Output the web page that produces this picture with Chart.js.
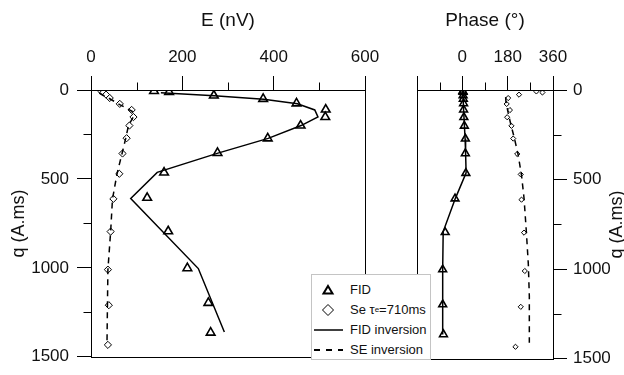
<!DOCTYPE html>
<html>
<head>
<meta charset="utf-8">
<script src="https://cdn.jsdelivr.net/npm/chart.js@4.4.1/dist/chart.umd.min.js"></script>
<style>
  body { margin: 0; background: #fff; }
  #wrap { position: relative; width: 624px; height: 375px; font-family: "Liberation Sans", Arial, sans-serif; }
  canvas { position: absolute; left: 0; top: 0; }
  #legend {
    position: absolute; left: 311px; top: 274px; width: 120px; height: 86px;
    box-sizing: border-box; border: 1px solid #c4c4c4; background: #fff;
    padding-top: 5px; font-size: 13px; color: #111;
  }
  .row { height: 20px; line-height: 20px; display: flex; align-items: center; }
  .row svg { width: 30px; height: 20px; margin-left: 1px; margin-right: 7px; flex: none; }
  sub { font-size: 8px; vertical-align: -2px; }
</style>
</head>
<body>
<div id="wrap">
  <canvas id="left" width="624" height="375"></canvas>
  <canvas id="right" width="624" height="375"></canvas>
  <div id="legend">
    <div class="row"><svg><polygon points="15,6 19.5,13.5 10.5,13.5" fill="none" stroke="#000" stroke-width="2"/></svg>FID</div>
    <div class="row"><svg><polygon points="15,4.5 20.5,10 15,15.5 9.5,10" fill="none" stroke="#000" stroke-width="1"/></svg>Se τ<sub>e</sub>=710ms</div>
    <div class="row"><svg><line x1="1" y1="10" x2="30" y2="10" stroke="#000" stroke-width="1.5"/></svg>FID inversion</div>
    <div class="row"><svg><line x1="1" y1="10" x2="30" y2="10" stroke="#000" stroke-width="2" stroke-dasharray="6,6"/></svg>SE inversion</div>
  </div>
</div>
<script>
// FID measurements
const fidQ = [6, 11, 31, 50, 75, 110, 152, 200, 272, 354, 464, 606, 794, 1002, 1197, 1364];
const fidE = [138, 171, 269, 377, 450, 514, 513, 459, 387, 277, 160, 123, 169, 211, 257, 262];
const fidPhase = [2, 3, 3, 4, 5, 5, 6, 8, 12, 12, 14, -29, -68, -78, -78, -75];

// spin echo measurements
const seQ = [8, 14, 26, 45, 78, 112, 152, 200, 271, 357, 471, 612, 796, 1010, 1210, 1433];
const seE = [23, 27, 33, 41, 63, 89, 93, 84, 78, 69, 62, 49, 43, 37, 39, 37];
const sePhase = [294, 318, 225, 182, 176, 189, 178, 195, 202, 218, 232, 235, 245, 248, 232, 211];

// inversion curves
const fidInvQ = [15, 32, 52, 77, 112, 151, 200, 272, 355, 463, 610, 1004, 1361];
const fidInvE = [153, 270, 378, 452, 490, 497, 460, 388, 278, 145, 87, 235, 292];
const fidInvPhQ = [6, 110, 272, 354, 462, 606, 790, 1002, 1364];
const fidInvPhase = [2, 5, 11, 13, 15, -28, -76, -78, -78];

const seInvQ = [17, 40, 82, 120, 150, 200, 272, 357, 471, 614, 797, 1011, 1213, 1430];
const seInvE = [18, 35, 63, 90, 93, 82, 76, 68, 57, 47, 43, 37, 36, 35];
const seInvPhQ = [40, 64, 128, 183, 265, 357, 476, 604, 787, 971, 1150, 1410];
const seInvPhase = [172, 173, 182, 191, 206, 221, 235, 245, 254, 262, 266, 266];

const eTicks = [0, 200, 400, 600];
const eMinor = [100, 300, 500];
const phaseTicks = [-180, 0, 180, 360];
const phaseMinor = [-90, 90, 270];
const qTicks = [0, 500, 1000, 1500];
const qMinor = [250, 750, 1250];

const ink = "#111";
const FONT = "'Liberation Sans', Arial, sans-serif";

function pts(xs, ys) {
  return ys.map((q, i) => ({ x: xs[i], y: q }));
}

// box round the plot, minor ticks and the rotated right title
const framePlugin = {
  id: "frame",
  afterDraw(chart, args, opts) {
    const ctx = chart.ctx;
    const a = chart.chartArea;
    ctx.save();
    ctx.strokeStyle = "#000";
    ctx.lineWidth = 1;
    const l = Math.round(a.left) + 0.5, r = Math.round(a.right) + 0.5;
    const t = Math.round(a.top) + 0.5, b = Math.round(a.bottom) + 0.5;
    ctx.strokeRect(l, t, r - l, b - t);
    ctx.beginPath();
    opts.xMinor.forEach(v => {
      const px = Math.round(chart.scales.x.getPixelForValue(v)) + 0.5;
      ctx.moveTo(px, t); ctx.lineTo(px, t - 8);
    });
    opts.yMinor.forEach(v => {
      const py = Math.round(chart.scales.y.getPixelForValue(v)) + 0.5;
      if (opts.side === "left") { ctx.moveTo(l, py); ctx.lineTo(l - 8, py); }
      else { ctx.moveTo(r, py); ctx.lineTo(r + 8, py); }
    });
    ctx.stroke();
    if (opts.sideTitle) {
      ctx.fillStyle = ink;
      ctx.font = "18px " + FONT;
      ctx.textAlign = "center";
      ctx.textBaseline = "middle";
      ctx.translate(opts.sideTitle.x, (a.top + a.bottom) / 2);
      ctx.rotate(-Math.PI / 2);
      ctx.fillText(opts.sideTitle.text, 0, 0);
    }
    ctx.restore();
  }
};

function axisX(min, max, step, title, hide) {
  return {
    type: "linear", position: "top", min: min, max: max,
    afterFit: s => { s.height = 90; },
    afterBuildTicks: s => { s.ticks = (hide.all).map(v => ({ value: v })); },
    ticks: {
      stepSize: step, color: ink, padding: 8, maxRotation: 0, autoSkip: false,
      font: { size: 17, family: FONT },
      callback: v => (hide.skip.includes(v) ? "" : String(v))
    },
    grid: { drawOnChartArea: false, drawTicks: true, tickLength: 14, color: "#000", lineWidth: 1 },
    border: { display: true, color: "#000", width: 1 },
    title: { display: true, text: title, color: ink, font: { size: 19, family: FONT }, padding: { top: 9, bottom: 0 } }
  };
}

function axisY(side, width, showTitle) {
  return {
    type: "linear", position: side, reverse: true, min: 0, max: 1500,
    afterFit: s => { s.width = width; },
    afterBuildTicks: s => { s.ticks = qTicks.map(v => ({ value: v })); },
    ticks: {
      stepSize: 500, color: ink, padding: side === "left" ? 8 : 6,
      font: { size: 17, family: FONT },
      callback: v => String(v)
    },
    grid: { drawOnChartArea: false, drawTicks: true, tickLength: 14, color: "#000", lineWidth: 1 },
    border: { display: true, color: "#000", width: 1 },
    title: { display: showTitle, text: "q (A.ms)", color: ink, font: { size: 18, family: FONT }, padding: { top: 8, bottom: 0 } }
  };
}

function datasets(fx, fy, sx, sy, ix, iy, jx, jy, small) {
  return [
    { label: "FID inversion", data: pts(ix, iy), showLine: true, borderColor: "#000", borderWidth: 1.5, pointRadius: 0, fill: false },
    { label: "SE inversion", data: pts(jx, jy), showLine: true, borderColor: "#000", borderWidth: 1.5, borderDash: [6, 5], pointRadius: 0, fill: false },
    { label: "FID", data: pts(fx, fy), showLine: false, pointStyle: "triangle", pointRadius: small ? 4.5 : 5, borderColor: "#000", backgroundColor: "rgba(0,0,0,0)", pointBorderWidth: 1.6 },
    { label: "Se", data: pts(sx, sy), showLine: false, pointStyle: "rectRot", pointRadius: small ? 2.6 : 3.6, borderColor: "#000", backgroundColor: "#fff", pointBorderWidth: 1 }
  ];
}

const common = {
  responsive: false, animation: false, events: [],
  plugins: { legend: { display: false }, tooltip: { enabled: false } }
};

new Chart(document.getElementById("left"), {
  type: "scatter",
  data: { datasets: datasets(fidE, fidQ, seE, seQ, fidInvE, fidInvQ, seInvE, seInvQ, false) },
  options: Object.assign({}, common, {
    layout: { padding: { left: 0, top: 0, right: 259, bottom: 12 } },
    scales: {
      x: axisX(0, 600, 200, "E (nV)", { all: eTicks, skip: [] }),
      y: axisY("left", 91, true)
    },
    plugins: Object.assign({}, common.plugins, { frame: { xMinor: eMinor, yMinor: qMinor, side: "left" } })
  }),
  plugins: [framePlugin]
});

new Chart(document.getElementById("right"), {
  type: "scatter",
  data: { datasets: datasets(fidPhase, fidQ, sePhase, seQ, fidInvPhase, fidInvPhQ, seInvPhase, seInvPhQ, true) },
  options: Object.assign({}, common, {
    layout: { padding: { left: 417, top: 0, right: 0, bottom: 12 } },
    scales: {
      x: axisX(-180, 360, 180, "Phase (°)", { all: phaseTicks, skip: [-180] }),
      y: axisY("right", 71, false)
    },
    plugins: Object.assign({}, common.plugins, { frame: { xMinor: phaseMinor, yMinor: qMinor, side: "right", sideTitle: { x: 617, text: "q (A.ms)" } } })
  }),
  plugins: [framePlugin]
});
</script>
</body>
</html>
